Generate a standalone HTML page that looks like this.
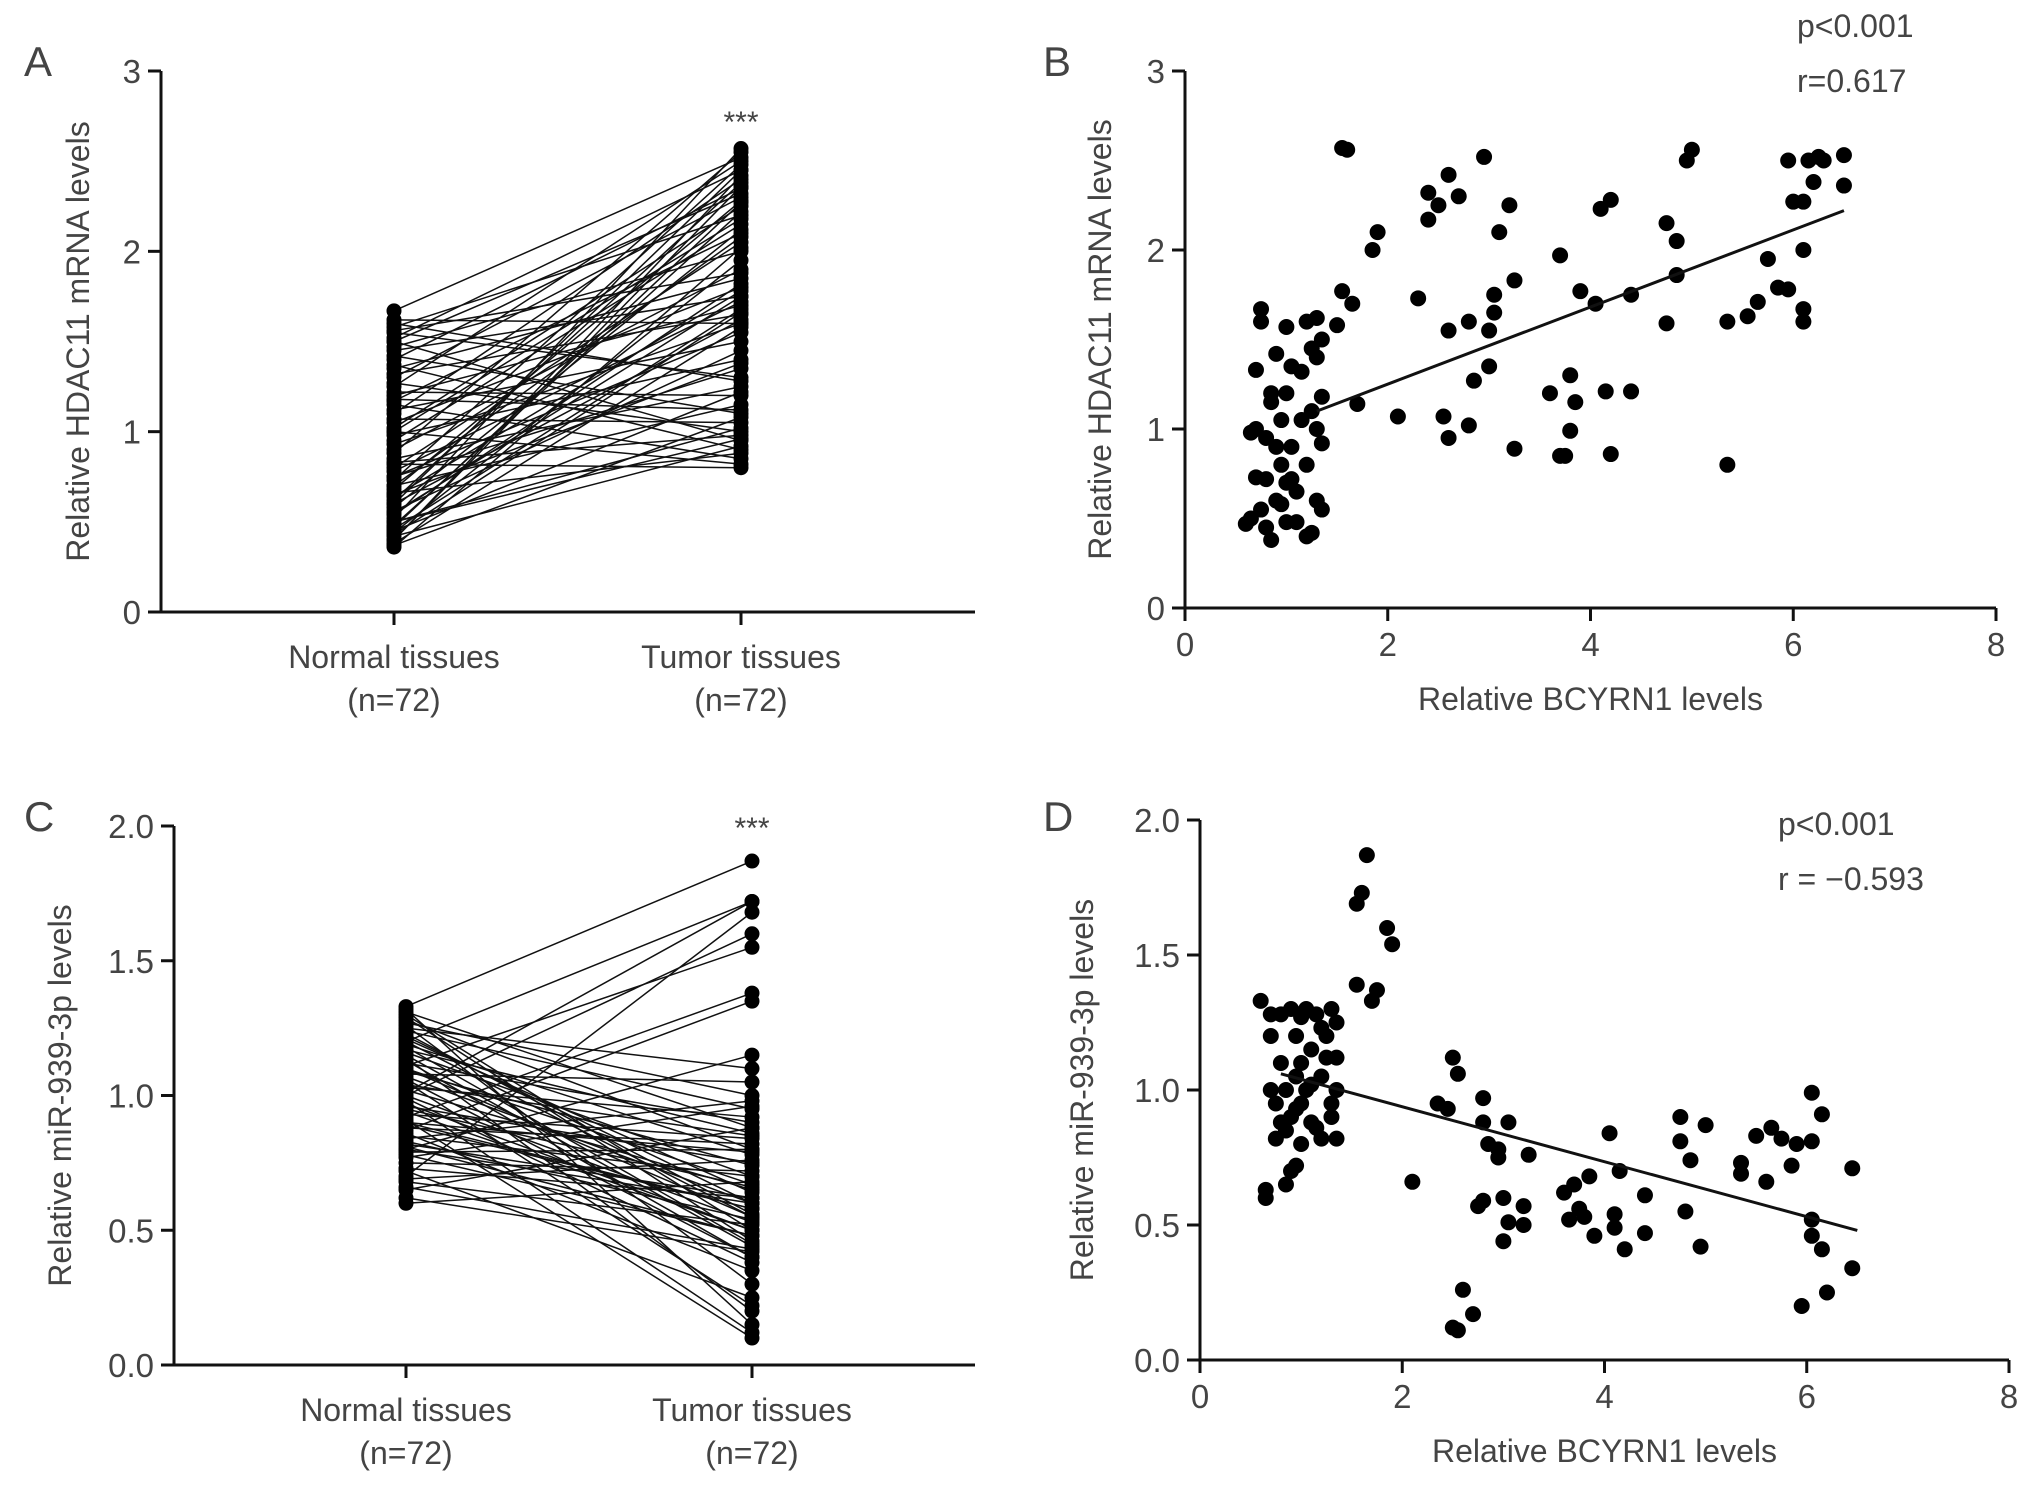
<!DOCTYPE html>
<html><head><meta charset="utf-8"><style>
html,body{margin:0;padding:0;background:#fff}
svg{display:block}
text{font-family:"Liberation Sans",sans-serif;fill:#444}
</style></head><body>
<svg id="fig" width="2032" height="1490" viewBox="0 0 2032 1490" xmlns="http://www.w3.org/2000/svg"></svg>
<script>
const catLabels=["Normal tissues","Tumor tissues"];
const nLabel="(n=72)";
const normalA=[1.67,1.62,1.58,1.55,1.52,1.5,1.47,1.45,1.42,1.4,1.37,1.35,1.32,1.3,1.27,1.25,1.22,1.2,1.17,1.15,1.12,1.1,1.07,1.05,1.02,1.0,0.98,0.95,0.93,0.9,0.88,0.85,0.83,0.8,0.78,0.75,0.73,0.7,0.68,0.66,0.64,0.62,0.6,0.58,0.56,0.54,0.52,0.5,0.48,0.46,0.44,0.42,0.4,0.38,0.36,1.6,1.56,1.5,1.18,1.0,0.82,0.75,0.7,0.65,0.6,0.55,0.5,0.47,0.45,0.43,0.4,0.37];
const tumorA=[2.52,1.6,2.2,1.3,2.45,0.95,2.0,1.75,1.1,2.35,0.9,1.85,1.65,2.3,1.0,2.5,1.2,1.7,2.1,0.85,1.5,2.4,1.05,1.8,2.25,0.82,1.4,2.15,1.6,1.9,2.55,1.25,0.98,2.05,1.72,1.35,2.48,1.15,2.28,0.88,1.78,2.38,1.62,2.12,1.45,1.82,2.57,1.02,2.22,1.68,1.95,0.92,2.42,1.58,2.02,1.28,1.88,2.32,1.12,2.18,0.8,1.55,2.08,1.38,2.45,1.75,0.96,2.27,1.22,1.66,2.36,1.08];
const normalC=[1.33,1.3,1.28,1.26,1.24,1.22,1.2,1.18,1.16,1.14,1.12,1.1,1.08,1.06,1.04,1.02,1.0,0.98,0.96,0.94,0.92,0.9,0.88,0.86,0.84,0.82,0.8,0.78,0.75,0.72,0.7,0.68,0.65,0.62,0.6,1.32,1.27,1.23,1.19,1.15,1.11,1.07,1.03,0.99,0.95,0.91,0.87,0.83,0.79,1.29,1.25,1.21,1.17,1.13,1.09,1.05,1.01,0.97,0.93,0.89,0.85,0.81,0.77,0.73,0.69,0.66,1.31,1.2,1.1,1.0,0.9,0.8];
const tumorC=[1.87,0.5,0.8,0.3,0.95,0.6,1.72,0.45,0.7,0.2,0.9,0.55,1.05,0.4,0.85,0.65,1.6,0.12,0.75,0.5,1.38,0.58,0.82,0.35,0.98,0.62,1.15,0.48,0.72,0.25,1.68,0.52,0.88,0.42,0.68,0.15,1.0,0.56,0.78,0.44,1.55,0.6,0.92,0.38,0.66,0.1,1.35,0.54,0.8,0.46,1.1,0.64,0.86,0.4,0.74,0.22,1.72,0.5,0.84,0.58,0.7,0.48,0.96,0.62,0.76,0.43,0.88,0.55,0.67,0.53,0.79,0.6];
const pointsB=[[0.6,0.47],[0.65,0.5],[0.7,1.0],[0.7,1.33],[0.75,1.6],[0.75,1.67],[0.8,0.45],[0.8,0.72],[0.8,0.95],[0.85,1.2],[0.85,0.38],[0.9,0.6],[0.9,1.42],[0.95,0.8],[0.95,1.05],[1.0,0.48],[1.0,0.7],[1.0,1.2],[1.0,1.57],[1.05,0.9],[1.05,1.35],[1.1,0.48],[1.1,0.65],[1.15,1.05],[1.15,1.32],[1.2,0.4],[1.2,0.8],[1.2,1.6],[1.25,1.1],[1.25,1.45],[1.3,0.6],[1.3,1.0],[1.3,1.4],[1.3,1.62],[1.35,0.55],[1.35,0.92],[1.35,1.18],[0.65,0.98],[0.75,0.55],[0.85,1.15],[0.95,0.58],[1.05,0.72],[1.25,0.42],[1.35,1.5],[0.7,0.73],[0.9,0.9],
[1.55,2.57],[1.6,2.56],[1.9,2.1],[1.85,2.0],[1.55,1.77],[1.65,1.7],[1.7,1.14],[1.5,1.58],[2.1,1.07],[2.3,1.73],[2.4,2.32],[2.5,2.25],[2.4,2.17],[2.6,2.42],[2.7,2.3],[2.55,1.07],[2.6,0.95],[2.6,1.55],[2.8,1.6],[2.8,1.02],[2.85,1.27],[2.95,2.52],[3.0,1.55],[3.05,1.65],[3.05,1.75],[3.1,2.1],[3.0,1.35],[3.2,2.25],[3.25,1.83],[3.25,0.89],[3.6,1.2],[3.7,0.85],[3.75,0.85],[3.7,1.97],[3.8,1.3],[3.8,0.99],[3.85,1.15],[3.9,1.77],[4.05,1.7],[4.1,2.23],[4.2,2.28],[4.15,1.21],[4.2,0.86],[4.4,1.21],[4.4,1.75],[4.75,2.15],[4.85,2.05],[4.85,1.86],[4.75,1.59],[4.95,2.5],[5.0,2.56],[5.35,1.6],[5.35,0.8],[5.55,1.63],[5.65,1.71],[5.75,1.95],[5.85,1.79],[5.95,1.78],[5.95,2.5],[6.0,2.27],[6.1,2.27],[6.1,2.0],[6.1,1.67],[6.1,1.6],[6.15,2.5],[6.2,2.38],[6.25,2.52],[6.3,2.5],[6.5,2.53],[6.5,2.36]];
const pointsD=[[0.6,1.33],[0.65,0.6],[0.65,0.63],[0.7,1.28],[0.7,1.2],[0.75,0.82],[0.75,0.95],[0.8,1.1],[0.8,1.28],[0.85,0.65],[0.85,0.85],[0.85,1.0],[0.9,0.7],[0.9,0.9],[0.9,1.3],[0.95,0.72],[0.95,1.05],[0.95,1.2],[1.0,0.8],[1.0,0.95],[1.0,1.1],[1.05,1.3],[1.05,1.0],[1.1,1.15],[1.1,0.88],[1.15,1.28],[1.15,0.86],[1.2,1.05],[1.2,0.82],[1.25,1.2],[1.25,1.12],[1.3,0.95],[1.3,1.3],[1.35,0.82],[1.35,1.25],[1.35,1.12],[1.35,1.0],[0.8,0.88],[0.95,0.93],[1.1,1.02],[1.2,1.23],[0.7,1.0],[1.3,0.9],[1.0,1.27],
[1.55,1.69],[1.6,1.73],[1.65,1.87],[1.85,1.60],[1.9,1.54],[1.55,1.39],[1.7,1.33],[1.75,1.37],[2.1,0.66],[2.35,0.95],[2.45,0.93],[2.5,1.12],[2.55,1.06],[2.5,0.12],[2.55,0.11],[2.6,0.26],[2.7,0.17],[2.75,0.57],[2.8,0.59],[2.8,0.97],[2.8,0.88],[2.85,0.8],[2.95,0.78],[2.95,0.75],[3.05,0.88],[3.0,0.6],[3.05,0.51],[3.0,0.44],[3.2,0.57],[3.2,0.5],[3.25,0.76],[3.6,0.62],[3.65,0.52],[3.7,0.65],[3.75,0.56],[3.8,0.53],[3.85,0.68],[3.9,0.46],[4.05,0.84],[4.1,0.54],[4.1,0.49],[4.15,0.7],[4.2,0.41],[4.4,0.61],[4.4,0.47],[4.75,0.9],[4.75,0.81],[4.8,0.55],[4.85,0.74],[4.95,0.42],[5.0,0.87],[5.35,0.73],[5.35,0.69],[5.5,0.83],[5.6,0.66],[5.65,0.86],[5.75,0.82],[5.85,0.72],[5.9,0.8],[5.95,0.2],[6.05,0.99],[6.05,0.81],[6.05,0.52],[6.05,0.46],[6.15,0.91],[6.15,0.41],[6.2,0.25],[6.45,0.71],[6.45,0.34]];
const fitB=[[1.3,1.1],[6.5,2.22]];
const fitD=[[0.8,1.06],[6.5,0.48]];
const yTicksA=[0,1,2,3];
const yTicksC=[0,0.5,1,1.5,2];
const xTicksS=[0,2,4,6,8];

const svg=document.getElementById('fig');
const NS="http://www.w3.org/2000/svg";
function el(tag,attrs,parent){const e=document.createElementNS(NS,tag);for(const k in attrs)e.setAttribute(k,attrs[k]);(parent||svg).appendChild(e);return e;}
function txt(s,x,y,size,parent,anchor,rot){const t=el('text',{x:x,y:y,'font-size':size,'text-anchor':anchor||'middle'},parent);if(rot)t.setAttribute('transform','rotate(-90 '+x+' '+y+')');t.textContent=s;return t;}
const fmt1=v=>v.toFixed(1);

function yAxis(g,x0,yTop,yBot,ticks,max,fmt){
  const sy=v=>yBot-(v/max)*(yBot-yTop);
  el('line',{x1:x0,y1:yTop,x2:x0,y2:yBot,stroke:'#111','stroke-width':3},g);
  ticks.forEach(v=>{
    el('line',{x1:x0-13,y1:sy(v),x2:x0,y2:sy(v),stroke:'#111','stroke-width':3},g);
    const t=txt(fmt(v),x0-20,sy(v)+12,33,g,'end');
    
    
  });
  return sy;
}

function paired(id,letter,x0,yTop,yBot,xEnd,cx,ticks,max,fmt,normal,tumor,ytitle,ytx,starY,letterY){
  const g=el('g',{});
  
  
  const L=txt(letter,24,letterY,42,g,'start');
  const sy=yAxis(g,x0,yTop,yBot,ticks,max,fmt);
  el('line',{x1:x0-13,y1:yBot,x2:xEnd,y2:yBot,stroke:'#111','stroke-width':3},g);
  cx.forEach((x,i)=>{
    el('line',{x1:x,y1:yBot,x2:x,y2:yBot+13,stroke:'#111','stroke-width':3},g);
    const a=txt(catLabels[i],x,yBot+56,32,g);
    const b=txt(nLabel,x,yBot+99,32,g);
  });
  const yt=txt(ytitle,ytx,(yTop+yBot)/2,32,g,'middle',true);
  
  normal.forEach((v,i)=>{
    const l=el('line',{x1:cx[0],y1:sy(v),x2:cx[1],y2:sy(tumor[i]),stroke:'#111','stroke-width':1.5},g);
    
    
  });
  [normal,tumor].forEach((arr,k)=>arr.forEach(v=>{
    const c=el('circle',{cx:cx[k],cy:sy(v),r:7.5,fill:'#000'},g);
    
    
  }));
  const s=txt('***',cx[1],starY,30,g);
}

function scatter(id,letter,x0,xEnd,yTop,yBot,ticks,max,fmt,pts,fit,ytitle,ytx,stats,statY,letterY){
  const g=el('g',{});
  
  
  const L=txt(letter,1043,letterY,42,g,'start');
  const sy=yAxis(g,x0,yTop,yBot,ticks,max,fmt);
  const sx=v=>x0+(v/8)*(xEnd-x0);
  el('line',{x1:x0-13,y1:yBot,x2:xEnd,y2:yBot,stroke:'#111','stroke-width':3},g);
  xTicksS.forEach(v=>{
    el('line',{x1:sx(v),y1:yBot,x2:sx(v),y2:yBot+13,stroke:'#111','stroke-width':3},g);
    const t=txt(String(v),sx(v),yBot+48,33,g);
  });
  const xt=txt('Relative BCYRN1 levels',(x0+xEnd)/2,yBot+102,32,g);
  const yt=txt(ytitle,ytx,(yTop+yBot)/2,32,g,'middle',true);
  pts.forEach(p=>{
    const c=el('circle',{cx:sx(p[0]),cy:sy(p[1]),r:8,fill:'#000'},g);
    
    
  });
  const f=el('line',{x1:sx(fit[0][0]),y1:sy(fit[0][1]),x2:sx(fit[1][0]),y2:sy(fit[1][1]),stroke:'#111','stroke-width':3},g);
  
  stats.forEach((s,i)=>{const t=txt(s,statY[0],statY[1]+i*55,32,g,'start');});
}

paired('a','A',161,71,612,975,[394,741],yTicksA,3,String,normalA,tumorA,'Relative HDAC11 mRNA levels',89,132,76);
paired('c','C',174,826,1365,975,[406,752],yTicksC,2,fmt1,normalC,tumorC,'Relative miR-939-3p levels',71,838,831);
scatter('b','B',1185,1996,71,608,yTicksA,3,String,pointsB,fitB,'Relative HDAC11 mRNA levels',1111,['p<0.001','r=0.617'],[1797,37],76);
scatter('d','D',1200,2009,820,1360,yTicksC,2,fmt1,pointsD,fitD,'Relative miR-939-3p levels',1093,['p<0.001','r = \u22120.593'],[1778,835],831);
</script>
</body></html>
